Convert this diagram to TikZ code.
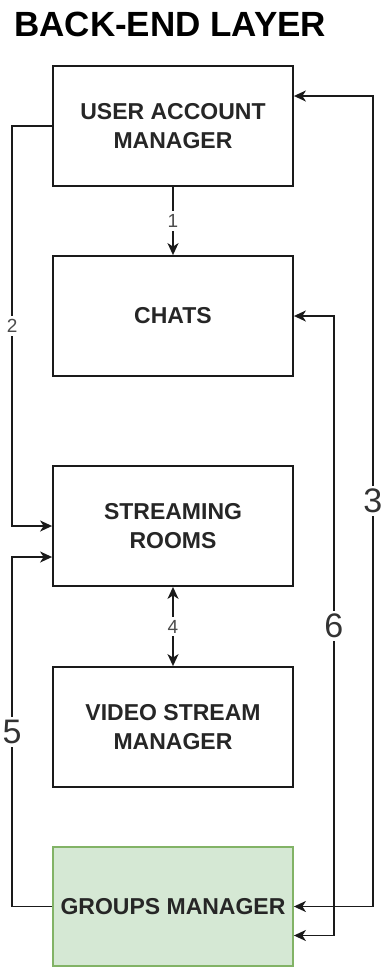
\documentclass[tikz,border=0pt]{standalone}
\usepackage{fontspec}
\setmainfont{Liberation Sans}
\usetikzlibrary{arrows.meta}
\definecolor{grpfill}{HTML}{D5E8D4}
\definecolor{grpdraw}{HTML}{82B366}
\definecolor{txt}{HTML}{262626}
\definecolor{lnc}{HTML}{1A1A1A}
\tikzset{
  box/.style={draw=lnc, line width=1.8pt, rectangle, minimum width=240pt, minimum height=120pt,
    align=center, font=\fontsize{23}{29}\selectfont\bfseries, text=txt, inner sep=0pt},
  conn/.style={draw=lnc, line width=1.8pt},
  arr/.style={conn, -{Stealth[length=12pt,width=11pt,inset=3.5pt]}},
  barr/.style={conn, {Stealth[length=12pt,width=11pt,inset=3.5pt]}-{Stealth[length=12pt,width=11pt,inset=3.5pt]}},
  lbl/.style={fill=white, inner sep=3pt, font=\fontsize{19}{19}\selectfont, text=black!70},
  biglbl/.style={fill=white, inner sep=3pt, font=\fontsize{34}{34}\selectfont, text=black!80},
}
\begin{document}
\begin{tikzpicture}[x=1pt,y=-1pt]
\useasboundingbox (0,0) rectangle (382,967);
\node[anchor=base west, font=\fontsize{35}{35}\selectfont\bfseries, text=black, inner sep=0pt] (title) at (14,36) {BACK-END LAYER};
\node[box] (uam) at (173,126) {USER ACCOUNT\\MANAGER};
\node[box] (chats) at (173,316) {CHATS};
\node[box] (sr) at (173,526) {STREAMING\\ROOMS};
\node[box] (vsm) at (173,727) {VIDEO STREAM\\MANAGER};
\node[box, draw=grpdraw, fill=grpfill, minimum height=119pt] (gm) at (173,906.5) {GROUPS MANAGER};
\draw[arr] (uam.south) -- node[lbl]{1} (chats.north);
\draw[arr] (uam.west) -- ++(-40,0) |- node[lbl,pos=0.25]{2} (sr.west);
\draw[barr] (sr.south) -- node[lbl]{4} (vsm.north);
\draw[arr] (gm.west) -- ++(-40,0) |- node[biglbl,pos=0.25]{5} ([yshift=-31pt]sr.west);
\draw[barr] (gm.east) -- ++(79,0) |- node[biglbl,pos=0.25]{3} ([yshift=30pt]uam.east);
\draw[barr] ([yshift=-29pt]gm.east) -- ++(40,0) |- node[biglbl,pos=0.25]{6} (chats.east);
\end{tikzpicture}
\end{document}
